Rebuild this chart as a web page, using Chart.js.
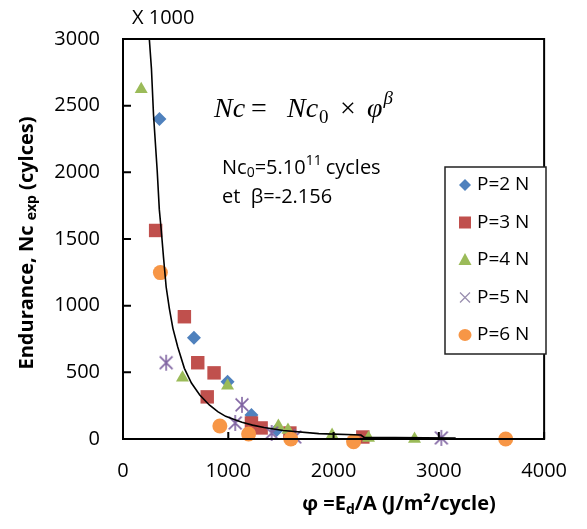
<!DOCTYPE html>
<html>
<head>
<meta charset="utf-8">
<script src="https://cdn.jsdelivr.net/npm/chart.js@4.4.0/dist/chart.umd.min.js"></script>
<style>
  html, body { margin: 0; padding: 0; background: #fff; }
  #wrap { width: 587px; height: 529px; }
</style>
</head>
<body>
<div id="wrap"><canvas id="chart" width="587" height="529"></canvas></div>
<script>
// data (Nc in thousands of cycles)
const phi2 = [346, 674, 993, 1220, 1460];
const nc2 = [2400, 760, 429, 180, 68];
const phi3 = [310, 583, 710, 800, 865, 1220, 1312, 1585, 2278];
const nc3 = [1564, 917, 572, 316, 496, 120, 83, 45, 15];
const phi4 = [173, 565, 993, 1476, 1567, 1986, 2332, 2769];
const nc4 = [2624, 459, 399, 98, 68, 30, 8, 0];
const phi5 = [410, 1066, 1130, 1412, 1631, 3024];
const nc5 = [572, 120, 256, 45, 15, 8];
const phi6 = [355, 920, 1193, 1594, 2190, 3635];
const nc6 = [1248, 98, 38, 0, -20, 0];

// fitted curve, points
const fitPhi = [250, 270, 290, 325, 345, 364, 385, 410, 440, 474, 520, 583, 650, 729, 820, 900, 975, 1050, 1130, 1230, 1340, 1520, 1860, 2260, 2290, 3160];
const fitNc = [3000, 2780, 2430, 2010, 1720, 1560, 1360, 1140, 980, 830, 690, 530, 420, 330, 255, 205, 170, 148, 125, 104, 86, 64, 40, 30, 12, 8];

const xTicks = [0, 1000, 2000, 3000, 4000];
const yTicks = [0, 500, 1000, 1500, 2000, 2500, 3000];

const seriesNames = ["P=2 N", "P=3 N", "P=4 N", "P=5 N", "P=6 N"];
const colors = ["#4F81BD", "#C0504D", "#9BBB59", "#8064A2", "#F79646"];

const FONT = "'Open Sans', 'Liberation Sans', sans-serif";

const pairs = (xs, ys) => xs.map((x, i) => ({ x: x, y: ys[i] }));

// asterisk marker (x + vertical bar)
const makeStar = (r, color) => {
  const c = document.createElement("canvas");
  c.width = c.height = r * 2 + 2;
  const g = c.getContext("2d");
  const m = r + 1;
  g.strokeStyle = color;
  g.lineWidth = 1.6;
  g.beginPath();
  g.moveTo(m - r * 0.8, m - r * 0.8); g.lineTo(m + r * 0.8, m + r * 0.8);
  g.moveTo(m + r * 0.8, m - r * 0.8); g.lineTo(m - r * 0.8, m + r * 0.8);
  g.moveTo(m, m - r); g.lineTo(m, m + r);
  g.stroke();
  return c;
};
const starImg = makeStar(8, colors[3]);

const drawMarker = (ctx, i, x, y) => {
  ctx.save();
  ctx.fillStyle = colors[i];
  ctx.strokeStyle = colors[i];
  ctx.beginPath();
  if (i === 0) {
    const r = 6;
    ctx.moveTo(x, y - r); ctx.lineTo(x + r, y); ctx.lineTo(x, y + r); ctx.lineTo(x - r, y);
    ctx.closePath(); ctx.fill();
  } else if (i === 1) {
    ctx.fillRect(x - 6, y - 6, 12, 12);
  } else if (i === 2) {
    ctx.moveTo(x, y - 7); ctx.lineTo(x + 6.5, y + 5); ctx.lineTo(x - 6.5, y + 5);
    ctx.closePath(); ctx.fill();
  } else if (i === 3) {
    ctx.strokeStyle = "#9a8fb0";
    ctx.lineWidth = 1.3;
    ctx.moveTo(x - 5, y - 5); ctx.lineTo(x + 5, y + 5);
    ctx.moveTo(x + 5, y - 5); ctx.lineTo(x - 5, y + 5);
    ctx.stroke();
  } else {
    ctx.ellipse(x, y, 6.5, 6, 0, 0, Math.PI * 2);
    ctx.fill();
  }
  ctx.restore();
};

const decorations = {
  id: "decorations",
  afterDraw: (chart) => {
    const { ctx, chartArea: a } = chart;
    const xs = chart.scales.x, ys = chart.scales.y;
    ctx.save();

    // frame
    ctx.strokeStyle = "#000";
    ctx.lineWidth = 2;
    ctx.strokeRect(a.left, a.top, a.right - a.left, a.bottom - a.top);

    // inward tick marks
    ctx.beginPath();
    yTicks.forEach((v) => {
      const py = ys.getPixelForValue(v);
      ctx.moveTo(a.left, py); ctx.lineTo(a.left + 8, py);
    });
    xTicks.forEach((v) => {
      const px = xs.getPixelForValue(v);
      ctx.moveTo(px, a.bottom); ctx.lineTo(px, a.bottom - 7);
    });
    ctx.stroke();

    ctx.fillStyle = "#000";
    ctx.textBaseline = "middle";

    // X 1000
    ctx.font = "20px " + FONT;
    ctx.textAlign = "left";
    ctx.fillText("X 1000", 132, 18);

    // equation
    const serif = "'Liberation Serif', 'DejaVu Serif', serif";
    ctx.font = "italic 28px " + serif;
    ctx.fillText("Nc", 214, 110);
    ctx.font = "28px " + serif;
    ctx.fillText("=", 251, 110);
    ctx.font = "italic 28px " + serif;
    ctx.fillText("Nc", 287, 110);
    let ex = 287 + ctx.measureText("Nc").width + 1;
    ctx.font = "19px " + serif;
    ctx.fillText("0", ex, 118);
    ctx.font = "28px " + serif;
    ctx.fillText("\u00d7", 340, 110);
    ctx.font = "italic 28px " + serif;
    ctx.fillText("\u03c6", 367, 110);
    ex = 367 + ctx.measureText("\u03c6").width + 1;
    ctx.font = "italic 19px " + serif;
    ctx.fillText("\u03b2", ex, 99);

    // constants
    ctx.font = "20px " + FONT;
    let x = 222;
    ctx.fillText("Nc", x, 168); x += ctx.measureText("Nc").width;
    ctx.font = "14px " + FONT;
    ctx.fillText("0", x, 173); x += ctx.measureText("0").width;
    ctx.font = "20px " + FONT;
    ctx.fillText("=5.10", x, 168); x += ctx.measureText("=5.10").width;
    ctx.font = "14px " + FONT;
    ctx.fillText("11", x, 161); x += ctx.measureText("11").width + 4;
    ctx.font = "20px " + FONT;
    ctx.fillText("cycles", x, 168);
    ctx.fillText("et  \u03b2=-2.156", 222, 197);

    // legend
    ctx.fillStyle = "#fff";
    ctx.fillRect(445, 167, 101, 187);
    ctx.strokeStyle = "#222";
    ctx.lineWidth = 1.5;
    ctx.strokeRect(445, 167, 101, 187);
    ctx.fillStyle = "#000";
    ctx.font = "19px " + FONT;
    seriesNames.forEach((name, i) => {
      const ly = 185 + i * 37.5;
      drawMarker(ctx, i, 465, ly);
      ctx.fillStyle = "#000";
      ctx.fillText(name, 477, ly);
    });

    // x title
    ctx.font = "bold 20px " + FONT;
    const t1 = "\u03c6 =E", t2 = "d", t3 = "/A (J/m\u00b2/cycle)";
    const w1 = ctx.measureText(t1).width, w3 = ctx.measureText(t3).width;
    ctx.font = "bold 14px " + FONT;
    const w2 = ctx.measureText(t2).width;
    let tx = 399 - (w1 + w2 + w3) / 2;
    ctx.font = "bold 20px " + FONT;
    ctx.fillText(t1, tx, 504); tx += w1;
    ctx.font = "bold 14px " + FONT;
    ctx.fillText(t2, tx, 510); tx += w2;
    ctx.font = "bold 20px " + FONT;
    ctx.fillText(t3, tx, 504);

    // y title
    ctx.translate(27, 243);
    ctx.rotate(-Math.PI / 2);
    ctx.font = "bold 20px " + FONT;
    const s1 = "Endurance, Nc ", s2 = "exp", s3 = " (cylces)";
    const v1 = ctx.measureText(s1).width, v3 = ctx.measureText(s3).width;
    ctx.font = "bold 14px " + FONT;
    const v2 = ctx.measureText(s2).width;
    let sx = -(v1 + v2 + v3) / 2;
    ctx.font = "bold 20px " + FONT;
    ctx.fillText(s1, sx, 0); sx += v1;
    ctx.font = "bold 14px " + FONT;
    ctx.fillText(s2, sx, 5); sx += v2;
    ctx.font = "bold 20px " + FONT;
    ctx.fillText(s3, sx, 0);

    ctx.restore();
  },
};

const ctx = document.querySelector("#chart").getContext("2d");

new Chart(ctx, {
  type: "scatter",
  data: {
    datasets: [
      {
        label: "fit",
        type: "line",
        data: pairs(fitPhi, fitNc),
        borderColor: "#000",
        borderWidth: 1.6,
        pointRadius: 0,
        tension: 0,
        fill: false,
        order: 0,
      },
      {
        label: seriesNames[0],
        data: pairs(phi2, nc2),
        pointStyle: "rectRot",
        pointRadius: 7,
        backgroundColor: colors[0],
        borderColor: colors[0],
        borderWidth: 0,
        clip: false,
        order: 5,
      },
      {
        label: seriesNames[1],
        data: pairs(phi3, nc3),
        pointStyle: "rect",
        pointRadius: 9.5,
        backgroundColor: colors[1],
        borderColor: colors[1],
        borderWidth: 0,
        clip: false,
        order: 4,
      },
      {
        label: seriesNames[2],
        data: pairs(phi4, nc4),
        pointStyle: "triangle",
        pointRadius: 7.5,
        backgroundColor: colors[2],
        borderColor: colors[2],
        borderWidth: 0,
        clip: false,
        order: 3,
      },
      {
        label: seriesNames[3],
        data: pairs(phi5, nc5),
        pointStyle: starImg,
        backgroundColor: colors[3],
        borderColor: colors[3],
        clip: false,
        order: 2,
      },
      {
        label: seriesNames[4],
        data: pairs(phi6, nc6),
        pointStyle: "circle",
        pointRadius: 7.5,
        backgroundColor: colors[4],
        borderColor: colors[4],
        borderWidth: 0,
        clip: false,
        order: 1,
      },
    ],
  },
  options: {
    responsive: false,
    animation: false,
    layout: { padding: { top: 39, right: 25, left: 0, bottom: 0 } },
    plugins: {
      legend: { display: false },
      tooltip: { enabled: false },
    },
    scales: {
      x: {
        type: "linear",
        min: 0,
        max: 4000,
        afterBuildTicks: (s) => { s.ticks = xTicks.map((v) => ({ value: v })); },
        afterFit: (s) => { s.height = 90; },
        ticks: { font: { family: FONT, size: 20 }, color: "#000", padding: 20, callback: (v) => String(v) },
        grid: { display: false, drawTicks: false },
        border: { display: false },
      },
      y: {
        min: 0,
        max: 3000,
        afterBuildTicks: (s) => { s.ticks = yTicks.map((v) => ({ value: v })); },
        afterFit: (s) => { s.width = 123; },
        ticks: { font: { family: FONT, size: 20 }, color: "#000", padding: 23, callback: (v) => String(v) },
        grid: { display: false, drawTicks: false },
        border: { display: false },
      },
    },
  },
  plugins: [decorations],
});
</script>
</body>
</html>
